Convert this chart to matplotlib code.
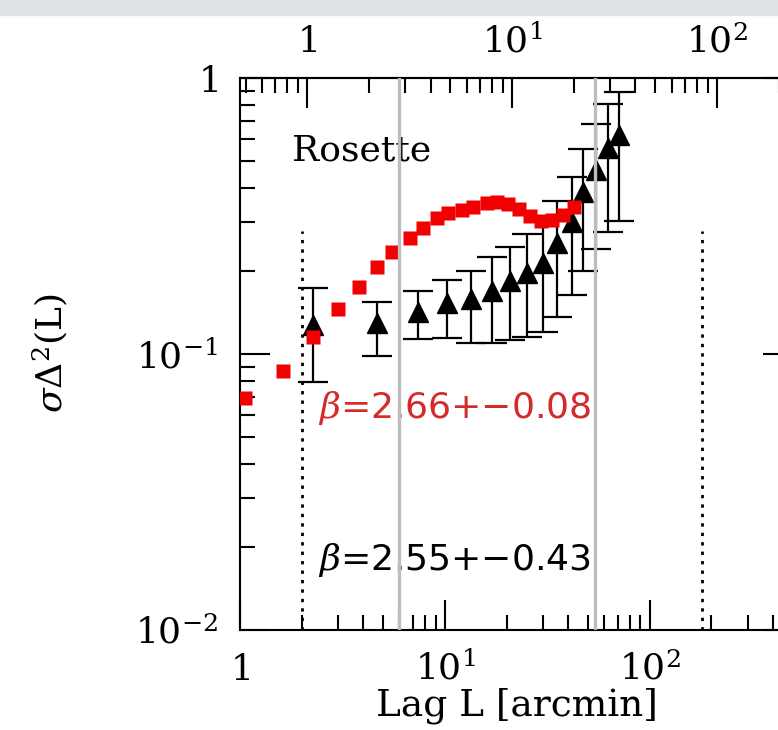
import matplotlib.pyplot as plt
from matplotlib.patches import Rectangle
from matplotlib.ticker import NullFormatter

plt.rcParams['font.family'] = 'DejaVu Serif'
plt.rcParams['mathtext.fontset'] = 'dejavuserif'

# red squares: lag [arcmin] and sigma_Delta^2
red_lag = [1.06, 1.62, 2.27, 3.00, 3.81, 4.66, 5.51, 6.74, 7.81, 9.13, 10.35,
           12.07, 13.68, 16.0, 17.9, 20.3, 22.9, 25.9, 29.3, 33.2, 37.6, 42.5]
red_val = [0.0693, 0.0868, 0.115, 0.146, 0.175, 0.207, 0.234, 0.263, 0.286,
           0.311, 0.324, 0.332, 0.341, 0.352, 0.355, 0.349, 0.335, 0.316,
           0.303, 0.306, 0.319, 0.341]

# black triangles with lower / upper error limits
tri_lag = [2.27, 4.66, 7.39, 10.2, 13.4, 16.9, 20.8, 25.1, 30.1, 35.2, 41.6,
           47.1, 54.6, 62.4, 70.6]
tri_val = [0.127, 0.129, 0.142, 0.153, 0.158, 0.169, 0.184, 0.197, 0.214,
           0.252, 0.301, 0.386, 0.464, 0.557, 0.621]
tri_lo = [0.079, 0.0984, 0.113, 0.114, 0.110, 0.110, 0.112, 0.115, 0.120,
          0.136, 0.164, 0.200, 0.240, 0.277, 0.303]
tri_hi = [0.173, 0.154, 0.169, 0.185, 0.200, 0.225, 0.244, 0.272, 0.306,
          0.358, 0.438, 0.553, 0.681, 0.805, 0.889]

gray_lines = [6.0, 54.0]
dotted_lines = [2.0, 180.0]
dotted_top = 0.28

pc_per_arcmin = 0.47

xtick_vals = [1, 10, 100]
xtick_labels = ['$1$', '$10^{1}$', '$10^{2}$']
ytick_vals = [0.01, 0.1, 1]
ytick_labels = ['$10^{-2}$', '$10^{-1}$', '$1$']

fig = plt.figure(figsize=(7.78, 7.30), dpi=100)
fig.add_artist(Rectangle((0, 1 - 15 / 730), 1, 15 / 730, transform=fig.transFigure,
                         color='#dde2e6', zorder=-1))

ax = fig.add_axes([240 / 778, 100 / 730, 553 / 778, 552 / 730])
ax.set_xscale('log')
ax.set_yscale('log')
ax.set_xlim(1, 500)
ax.set_ylim(0.01, 1)

lo_err = [v - l for v, l in zip(tri_val, tri_lo)]
hi_err = [h - v for v, h in zip(tri_val, tri_hi)]
ax.errorbar(tri_lag, tri_val, yerr=[lo_err, hi_err], fmt='^', color='black',
            ms=14, elinewidth=1.6, capsize=10.8, capthick=1.6, zorder=3)
ax.plot(red_lag, red_val, 's', color='#f00000', ms=10, mec='none', zorder=4)

for x in gray_lines:
    ax.axvline(x, color='#bdbdbd', lw=2.4, zorder=6)
for x in dotted_lines:
    ax.plot([x, x], [0.01, dotted_top], color='black', lw=2,
            ls=(0, (1.2, 2.2)), zorder=2)

ax.text(0.094, 0.851, 'Rosette', transform=ax.transAxes, fontsize=26, va='baseline')
ax.text(0.141, 0.384, r'$\beta$=2.66+−0.08', transform=ax.transAxes, fontsize=26,
        family='DejaVu Sans', color='#d42a2a', va='baseline', zorder=5)
ax.text(0.141, 0.109, r'$\beta$=2.55+−0.43', transform=ax.transAxes, fontsize=26,
        family='DejaVu Sans', color='black', va='baseline', zorder=5)

ax.set_xticks(xtick_vals, xtick_labels)
ax.set_yticks(ytick_vals, ytick_labels)
ax.xaxis.set_minor_formatter(NullFormatter())
ax.yaxis.set_minor_formatter(NullFormatter())
ax.tick_params(which='both', direction='in', left=True, right=True, bottom=True,
               top=False, width=1.5)
ax.tick_params(which='major', length=21.6)
ax.tick_params(which='minor', length=10.8)
ax.tick_params(axis='x', which='major', pad=36, labelsize=26)
ax.tick_params(axis='y', which='major', pad=16, labelsize=26)
for lbl in ax.get_xticklabels():
    lbl.set_va('baseline')
for sp in ax.spines.values():
    sp.set_linewidth(1.5)

secax = ax.secondary_xaxis('top', functions=(lambda x: x * pc_per_arcmin,
                                             lambda x: x / pc_per_arcmin))
secax.set_xticks(xtick_vals, xtick_labels)
secax.xaxis.set_minor_formatter(NullFormatter())
secax.tick_params(which='both', direction='in', width=1.5)
secax.tick_params(which='major', length=21.6, pad=18.7, labelsize=26)
secax.tick_params(which='minor', length=10.8)
secax.spines['top'].set_linewidth(1.5)
for lbl in secax.get_xticklabels():
    lbl.set_va('baseline')

ax.set_xlabel('Lag L [arcmin]', fontsize=27)
ax.xaxis.set_label_coords(0.5, -0.105)
ax.set_ylabel(r'$\sigma\Delta^2$(L)', fontsize=26)
ax.yaxis.set_label_coords(-0.307, 0.502)

fig.savefig('out.png', dpi=100)
